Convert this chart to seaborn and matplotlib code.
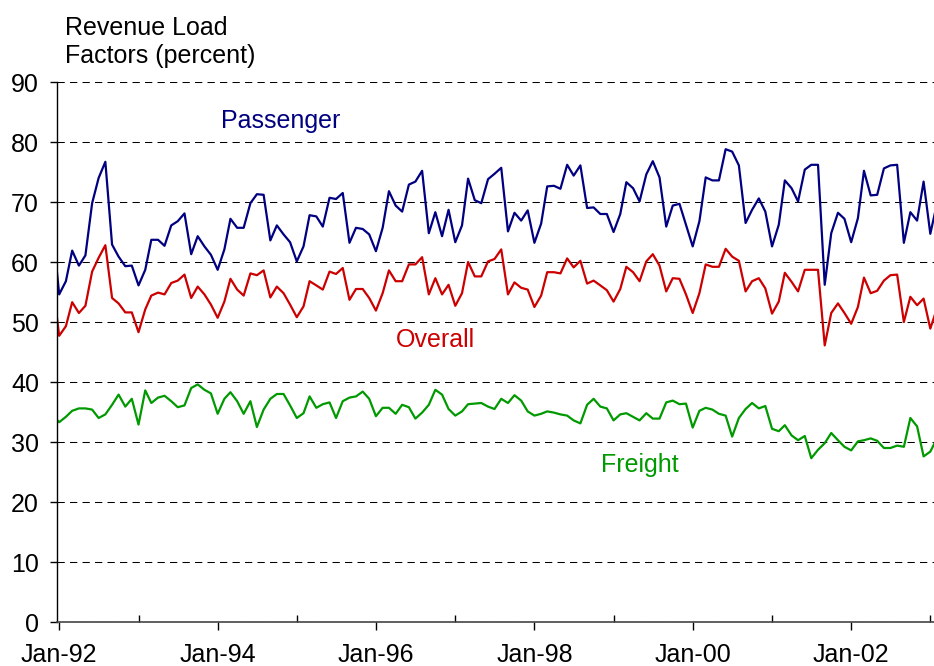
"""
Revenue load factors (percent), monthly, Jan-92 to early 2003:
passenger, overall and freight series.
"""

import matplotlib
matplotlib.use("Agg")
import matplotlib.pyplot as plt
import matplotlib.dates as mdates
import pandas as pd
import seaborn as sns

# monthly values, Dec-91 through Feb-03 (ends are clipped by the axis)
months = pd.date_range("1991-12-01", "2003-02-01", freq="MS")

passenger = [
    66.0,
    54.6, 56.8, 61.9, 59.4, 61.1, 69.8, 74.0, 76.7, 62.9, 60.9, 59.3, 59.4,  # 1992
    56.1, 58.7, 63.7, 63.7, 62.7, 66.1, 66.8, 68.1, 61.3, 64.3, 62.6, 61.2,  # 1993
    58.7, 62.1, 67.2, 65.7, 65.7, 69.8, 71.3, 71.2, 63.6, 66.1, 64.6, 63.3,  # 1994
    60.1, 62.6, 67.8, 67.6, 65.9, 70.7, 70.5, 71.5, 63.2, 65.7, 65.5, 64.6,  # 1995
    61.8, 65.7, 71.8, 69.4, 68.4, 72.9, 73.4, 75.2, 64.8, 68.3, 64.3, 68.7,  # 1996
    63.3, 66.1, 73.9, 70.3, 69.8, 73.8, 74.7, 75.7, 65.1, 68.2, 66.9, 68.6,  # 1997
    63.2, 66.4, 72.6, 72.7, 72.2, 76.2, 74.4, 76.1, 69.0, 69.1, 68.0, 68.0,  # 1998
    65.0, 68.0, 73.3, 72.3, 70.1, 74.6, 76.8, 74.1, 65.9, 69.4, 69.7, 66.2,  # 1999
    62.6, 66.8, 74.1, 73.6, 73.6, 78.8, 78.4, 76.1, 66.5, 68.7, 70.6, 68.4,  # 2000
    62.6, 66.2, 73.6, 72.3, 70.1, 75.4, 76.2, 76.2, 56.2, 64.8, 68.2, 67.2,  # 2001
    63.3, 67.3, 75.2, 71.1, 71.2, 75.6, 76.1, 76.2, 63.2, 68.3, 66.9, 73.4,  # 2002
    64.7, 69.8,
]

overall = [
    57.0,
    47.7, 49.3, 53.3, 51.5, 52.7, 58.4, 60.7, 62.8, 54.0, 53.1, 51.6, 51.6,
    48.3, 52.1, 54.4, 54.9, 54.6, 56.5, 56.9, 57.9, 54.0, 55.9, 54.6, 52.9,
    50.7, 53.4, 57.2, 55.4, 54.4, 58.1, 57.8, 58.6, 54.1, 55.9, 54.8, 52.9,
    50.8, 52.6, 56.8, 56.1, 55.4, 58.4, 58.0, 59.0, 53.7, 55.5, 55.5, 54.0,
    51.9, 54.8, 58.6, 56.8, 56.8, 59.6, 59.6, 60.8, 54.6, 57.3, 54.6, 56.2,
    52.7, 54.8, 60.0, 57.6, 57.6, 60.1, 60.5, 62.1, 54.6, 56.6, 55.7, 55.4,
    52.5, 54.4, 58.3, 58.3, 58.1, 60.6, 59.1, 60.2, 56.4, 56.9, 56.1, 55.3,
    53.4, 55.5, 59.2, 58.3, 56.8, 60.1, 61.3, 59.4, 55.1, 57.3, 57.2, 54.6,
    51.5, 54.8, 59.6, 59.2, 59.2, 62.2, 60.9, 60.2, 55.1, 56.8, 57.3, 55.6,
    51.4, 53.4, 58.2, 56.7, 55.1, 58.7, 58.7, 58.7, 46.1, 51.5, 53.1, 51.5,
    49.7, 52.5, 57.4, 54.8, 55.2, 56.9, 57.8, 57.9, 50.0, 54.2, 52.8, 53.9,
    48.9, 52.3,
]

freight = [
    34.5,
    33.3, 34.2, 35.2, 35.6, 35.6, 35.4, 34.0, 34.6, 36.2, 37.9, 35.9, 37.2,
    32.9, 38.6, 36.5, 37.4, 37.7, 36.8, 35.8, 36.1, 39.0, 39.6, 38.7, 38.1,
    34.7, 37.2, 38.3, 36.8, 34.7, 36.8, 32.5, 35.4, 37.2, 38.0, 38.0, 36.1,
    34.0, 34.8, 37.6, 35.7, 36.3, 36.6, 34.0, 36.8, 37.4, 37.6, 38.4, 37.2,
    34.3, 35.7, 35.7, 34.7, 36.2, 35.8, 33.9, 34.9, 36.2, 38.7, 37.9, 35.5,
    34.4, 35.1, 36.3, 36.4, 36.5, 35.9, 35.5, 37.2, 36.5, 37.8, 36.9, 35.1,
    34.4, 34.7, 35.1, 34.9, 34.6, 34.4, 33.6, 33.1, 36.2, 37.2, 35.9, 35.6,
    33.6, 34.6, 34.8, 34.2, 33.6, 34.8, 33.9, 33.9, 36.6, 36.9, 36.3, 36.4,
    32.4, 35.2, 35.7, 35.4, 34.7, 34.4, 30.9, 34.0, 35.5, 36.5, 35.6, 36.0,
    32.2, 31.8, 32.8, 31.1, 30.3, 31.0, 27.3, 28.7, 29.8, 31.5, 30.3, 29.2,
    28.6, 30.1, 30.3, 30.6, 30.2, 29.0, 29.0, 29.4, 29.2, 34.0, 32.6, 27.6,
    28.4, 30.6,
]

SERIES = ["Passenger", "Overall", "Freight"]
COLORS = {"Passenger": "#000080", "Overall": "#cc0000", "Freight": "#009900"}
FS = 18

sns.set_style("white")
plt.rcParams["font.family"] = ["Liberation Sans", "DejaVu Sans"]
plt.rcParams["text.color"] = "black"
plt.rcParams["xtick.color"] = "black"
plt.rcParams["ytick.color"] = "black"

df = pd.DataFrame({"month": months, "Passenger": passenger,
                   "Overall": overall, "Freight": freight})
long_df = df.melt(id_vars="month", value_vars=SERIES,
                  var_name="series", value_name="load")

fig = plt.figure(figsize=(9.34, 6.66), dpi=100)
ax = fig.add_axes([57 / 934, 44 / 666, 877 / 934, 540 / 666])

sns.lineplot(data=long_df, x="month", y="load", hue="series",
             hue_order=SERIES, palette=COLORS, linewidth=1.6,
             legend=False, ax=ax)

ax.set_ylim(0, 90)
ax.set_yticks(range(0, 91, 10))
ax.set_xlim(pd.Timestamp("1991-12-22"), pd.Timestamp("2003-01-18"))
ax.set_axisbelow(True)
ax.yaxis.grid(True, color="black", linestyle=(0, (7, 5)), linewidth=0.75)
ax.xaxis.grid(False)

ax.xaxis.set_major_locator(mdates.YearLocator(2))
ax.xaxis.set_minor_locator(mdates.YearLocator(1))
ax.xaxis.set_major_formatter(mdates.DateFormatter("%b-%y"))
ax.tick_params(axis="x", which="major", direction="out", length=6,
               width=1, pad=9, labelsize=FS, bottom=True)
ax.tick_params(axis="x", which="minor", direction="in", length=5,
               width=1, bottom=True)
ax.tick_params(axis="y", direction="out", length=5, width=1, pad=8,
               labelsize=FS, left=True)

ax.set_xlabel("")
ax.set_ylabel("")
for side in ["top", "right"]:
    ax.spines[side].set_visible(False)
ax.spines["left"].set_color("black")
ax.spines["bottom"].set_color("#444444")
ax.spines["left"].set_linewidth(1)
ax.spines["bottom"].set_linewidth(1.2)

labels = {
    "Passenger": ("1994-10-20", 82.3),
    "Overall": ("1996-10-01", 45.8),
    "Freight": ("1999-05-01", 25.0),
}
for name, (date, y) in labels.items():
    ax.text(mdates.date2num(pd.Timestamp(date)), y, name, color=COLORS[name],
            fontsize=FS, ha="center", va="baseline")

fig.text(65 / 934, 1 - 63 / 666, "Revenue Load\nFactors (percent)",
         fontsize=FS, ha="left", va="baseline", linespacing=1.2)

fig.savefig("out.png", dpi=100)
plt.close(fig)
